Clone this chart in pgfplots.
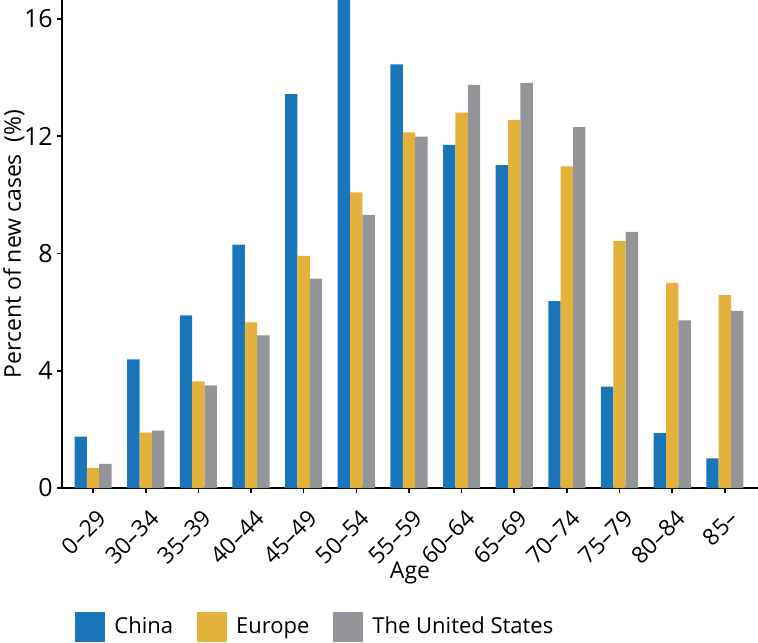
\documentclass[border=0pt]{standalone}
\usepackage{pgfplots}
\pgfplotsset{compat=1.18}
\usepackage{fontspec}
\setmainfont{Open Sans}
\definecolor{cChina}{RGB}{27,117,187}
\definecolor{cEurope}{RGB}{227,178,60}
\definecolor{cUS}{RGB}{147,149,152}
\begin{document}
\begin{tikzpicture}
\begin{axis}[
  scale only axis,
  width=348pt, height=244pt,
  ybar=0pt, bar width=0.235,
  xmin=-0.59, xmax=12.63,
  ymin=0, ymax=16.65,
  axis lines*=left,
  axis line style={line width=1pt},
  xtick={0,...,12},
  xticklabels={0–29,30–34,35–39,40–44,45–49,50–54,55–59,60–64,65–69,70–74,75–79,80–84,85–},
  ytick={0,4,8,12,16},
  tick align=outside,
  major tick length=2.5pt,
  tick style={line width=0.8pt, black},
  /pgf/number format/assume math mode=true,
  tick label style={font=\fontsize{12.5}{14}\selectfont},
  xticklabel style={font=\fontsize{11.5}{13}\selectfont, xshift=1.5pt, yshift=-7.5pt, rotate=45, anchor=north east, inner sep=0pt},
  yticklabel style={inner sep=2pt},
  xlabel={Age},
  ylabel={Percent of new cases~~(\%)},
  label style={font=\fontsize{11.5}{13}\selectfont},
  xlabel style={at={(axis description cs:0.5,0)}, anchor=center, yshift=-42.5pt},
  ylabel style={at={(axis description cs:0,0.5)}, anchor=north, inner sep=0pt, yshift=29.5pt},
  legend style={draw=none, inner sep=0pt, at={(rel axis cs:0,-0.285)}, anchor=west, xshift=6.5pt,
    font=\fontsize{11}{13}\selectfont, legend columns=-1,
    /tikz/every odd column/.append style={column sep=2.5pt},
    /tikz/every even column/.append style={column sep=10pt}},
  legend image code/.code={\fill[#1] (0pt,-7.5pt) rectangle (15pt,7.5pt);},
]
\addplot[fill=cChina, draw=none] coordinates {
(0,1.75) (1,4.39) (2,5.89) (3,8.30) (4,13.44) (5,16.7) (6,14.45) (7,11.71) (8,11.02) (9,6.38) (10,3.46) (11,1.87) (12,1.01)};
\addplot[fill=cEurope, draw=none] coordinates {
(0,0.69) (1,1.89) (2,3.64) (3,5.65) (4,7.92) (5,10.09) (6,12.13) (7,12.81) (8,12.56) (9,10.97) (10,8.42) (11,7.00) (12,6.58)};
\addplot[fill=cUS, draw=none] coordinates {
(0,0.82) (1,1.96) (2,3.50) (3,5.21) (4,7.14) (5,9.32) (6,11.99) (7,13.75) (8,13.82) (9,12.31) (10,8.74) (11,5.72) (12,6.04)};
\legend{China, Europe, The United States}
\coordinate (BL) at (rel axis cs:0,0);
\coordinate (TR) at (rel axis cs:1,1);
\end{axis}
\pgfresetboundingbox
\path[use as bounding box] (BL) ++(-31pt,-77pt) rectangle (TR);
\end{tikzpicture}
\end{document}
